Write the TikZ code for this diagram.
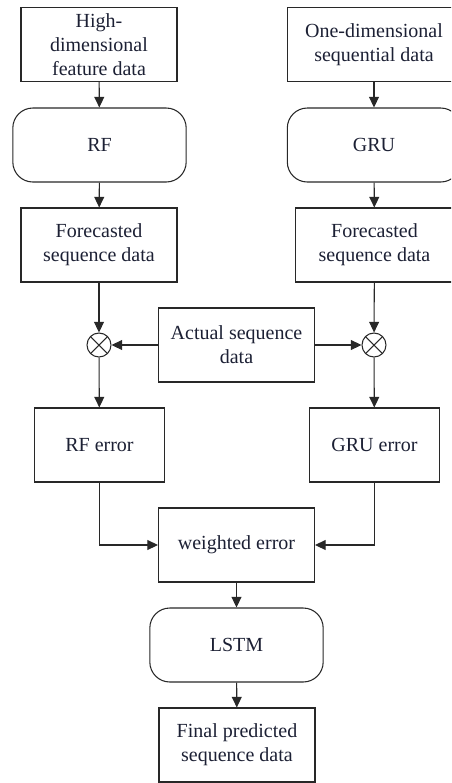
\documentclass[tikz,border=0pt]{standalone}
\usepackage{fontspec}
\setmainfont{Liberation Serif}
\usepackage{tikz}
\usetikzlibrary{arrows.meta,positioning,calc}
\definecolor{inkText}{RGB}{28,32,52}
\definecolor{inkLine}{RGB}{40,40,40}
\tikzset{
  box/.style={draw=inkLine, line width=0.8pt, text=inkText, align=center,
    minimum width=117pt, minimum height=55.5pt, inner sep=2pt,
    font=\fontsize{15}{18}\selectfont},
  roundbox/.style={box, rounded corners=15pt, minimum width=130pt},
  mult/.style={draw=inkLine, line width=0.8pt, circle, minimum size=18pt, inner sep=0pt,
    path picture={\draw[inkLine, line width=0.8pt]
      (path picture bounding box.north west) -- (path picture bounding box.south east)
      (path picture bounding box.north east) -- (path picture bounding box.south west);}},
  flow/.style={draw=inkLine, line width=0.8pt, -{Triangle[length=8pt,width=7.5pt]}}
}
\begin{document}
\begin{tikzpicture}[x=0.75pt,y=-0.75pt]
    \useasboundingbox (0,0) rectangle (451,783);
    \clip (0,0) rectangle (451,783);
    % left branch
    \node[box] (feat) at (99,44.5) {High-\\dimensional\\feature data};
    \node[roundbox] (rf) at (99.5,145) {RF};
    \node[box] (rfout) at (99,245) {Forecasted\\sequence data};
    \node[mult] (mulL) at (99,345) {};
    \node[box, minimum width=97pt] (rferr) at (99.5,445) {RF error};
    % right branch
    \node[box, minimum width=130pt] (seq) at (374,44.5) {One-dimensional\\sequential data};
    \node[roundbox] (gru) at (374,145) {GRU};
    \node[box, minimum width=118pt] (gruout) at (374.5,245) {Forecasted\\sequence data};
    \node[mult] (mulR) at (374,345) {};
    \node[box, minimum width=97pt] (gruerr) at (374.5,445) {GRU error};
    % middle
    \node[box] (actual) at (236.5,345) {Actual sequence\\data};
    \node[box] (werr) at (236.5,545) {weighted error};
    \node[roundbox] (lstm) at (236.5,645) {LSTM};
    \node[box] (final) at (237,745) {Final predicted\\sequence data};

    \draw[flow] (feat) -- (rf);
    \draw[flow] (rf) -- (rfout);
    \draw[flow] (rfout) -- (mulL);
    \draw[flow] (mulL) -- (rferr);
    \draw[flow] (seq) -- (gru);
    \draw[flow] (gru) -- (gruout);
    \draw[flow] (gruout) -- (mulR);
    \draw[flow] (mulR) -- (gruerr);
    \draw[flow] (actual) -- (mulL);
    \draw[flow] (actual) -- (mulR);
    \draw[flow] (rferr.south) |- (werr.west);
    \draw[flow] (gruerr.south) |- (werr.east);
    \draw[flow] (werr) -- (lstm);
    \draw[flow] (lstm) -- (final);
  \end{tikzpicture}
\end{document}
